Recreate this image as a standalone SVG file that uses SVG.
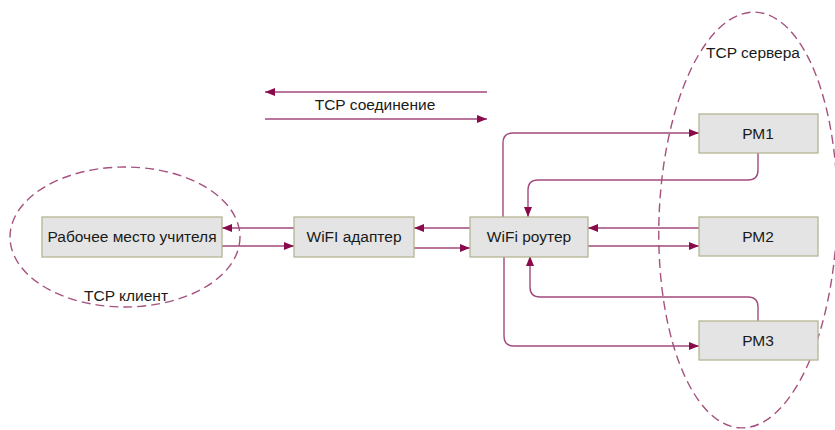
<svg xmlns="http://www.w3.org/2000/svg" width="835" height="430" viewBox="0 0 835 430">
<style>
.box{fill:#e4e4e4;stroke:#b4b494;stroke-width:1.3}
.t{font-family:"Liberation Sans",Arial,sans-serif;font-size:15.5px;fill:#1a1a1a;text-anchor:middle}
.c{fill:none;stroke:#a2497c;stroke-width:1.4;marker-end:url(#ah)}
.zone{fill:none;stroke:#a5527f;stroke-width:1.4;stroke-dasharray:9,5}
</style>
<defs>
<marker id="ah" markerUnits="userSpaceOnUse" markerWidth="11" markerHeight="9" refX="10" refY="4" orient="auto">
<path d="M0,0 L10,4 L0,8 z" fill="#8a0b4b"/>
</marker>
</defs>
<rect width="835" height="430" fill="#ffffff"/>
<g id="zone-client">
<ellipse class="zone" cx="125" cy="237" rx="115" ry="70"/>
<text class="t" x="126" y="301">TCP клиент</text>
</g>
<g id="zone-servers">
<ellipse class="zone" cx="748" cy="220" rx="89" ry="208" transform="rotate(2 748 220)"/>
<text class="t" x="753" y="58">TCP сервера</text>
</g>
<g id="connectors">
<path class="c" d="M294,228 H222"/>
<path class="c" d="M222,246 H294"/>
<path class="c" d="M470,228 H414"/>
<path class="c" d="M414,248 H470"/>
<path class="c" d="M503,217 V143 Q503,133 513,133 H699"/>
<path class="c" d="M758,153 V170 Q758,180 748,180 H538 Q528,180 528,190 V217"/>
<path class="c" d="M699,228 H588"/>
<path class="c" d="M588,246 H699"/>
<path class="c" d="M504,256 V336 Q504,346 514,346 H699"/>
<path class="c" d="M758,321 V307 Q758,297 748,297 H540 Q530,297 530,287 V256"/>
<path class="c" d="M487,92 H265"/>
<path class="c" d="M265,119 H487"/>
</g>
<g id="tcp-label">
<text class="t" x="375" y="110">TCP соединение</text>
</g>
<g id="teacher">
<rect class="box" x="42" y="217" width="180" height="40"/>
<text class="t" x="132" y="242">Рабочее место учителя</text>
</g>
<g id="adapter">
<rect class="box" x="294" y="217" width="120" height="40"/>
<text class="t" x="354" y="242">WiFI адаптер</text>
</g>
<g id="router">
<rect class="box" x="470" y="217" width="118" height="40"/>
<text class="t" x="529" y="242">WiFi роутер</text>
</g>
<g id="pm1">
<rect class="box" x="699" y="114" width="119" height="39"/>
<text class="t" x="758" y="139">РМ1</text>
</g>
<g id="pm2">
<rect class="box" x="699" y="217" width="119" height="39"/>
<text class="t" x="758" y="242">РМ2</text>
</g>
<g id="pm3">
<rect class="box" x="699" y="321" width="119" height="39"/>
<text class="t" x="758" y="346">РМ3</text>
</g>
</svg>
